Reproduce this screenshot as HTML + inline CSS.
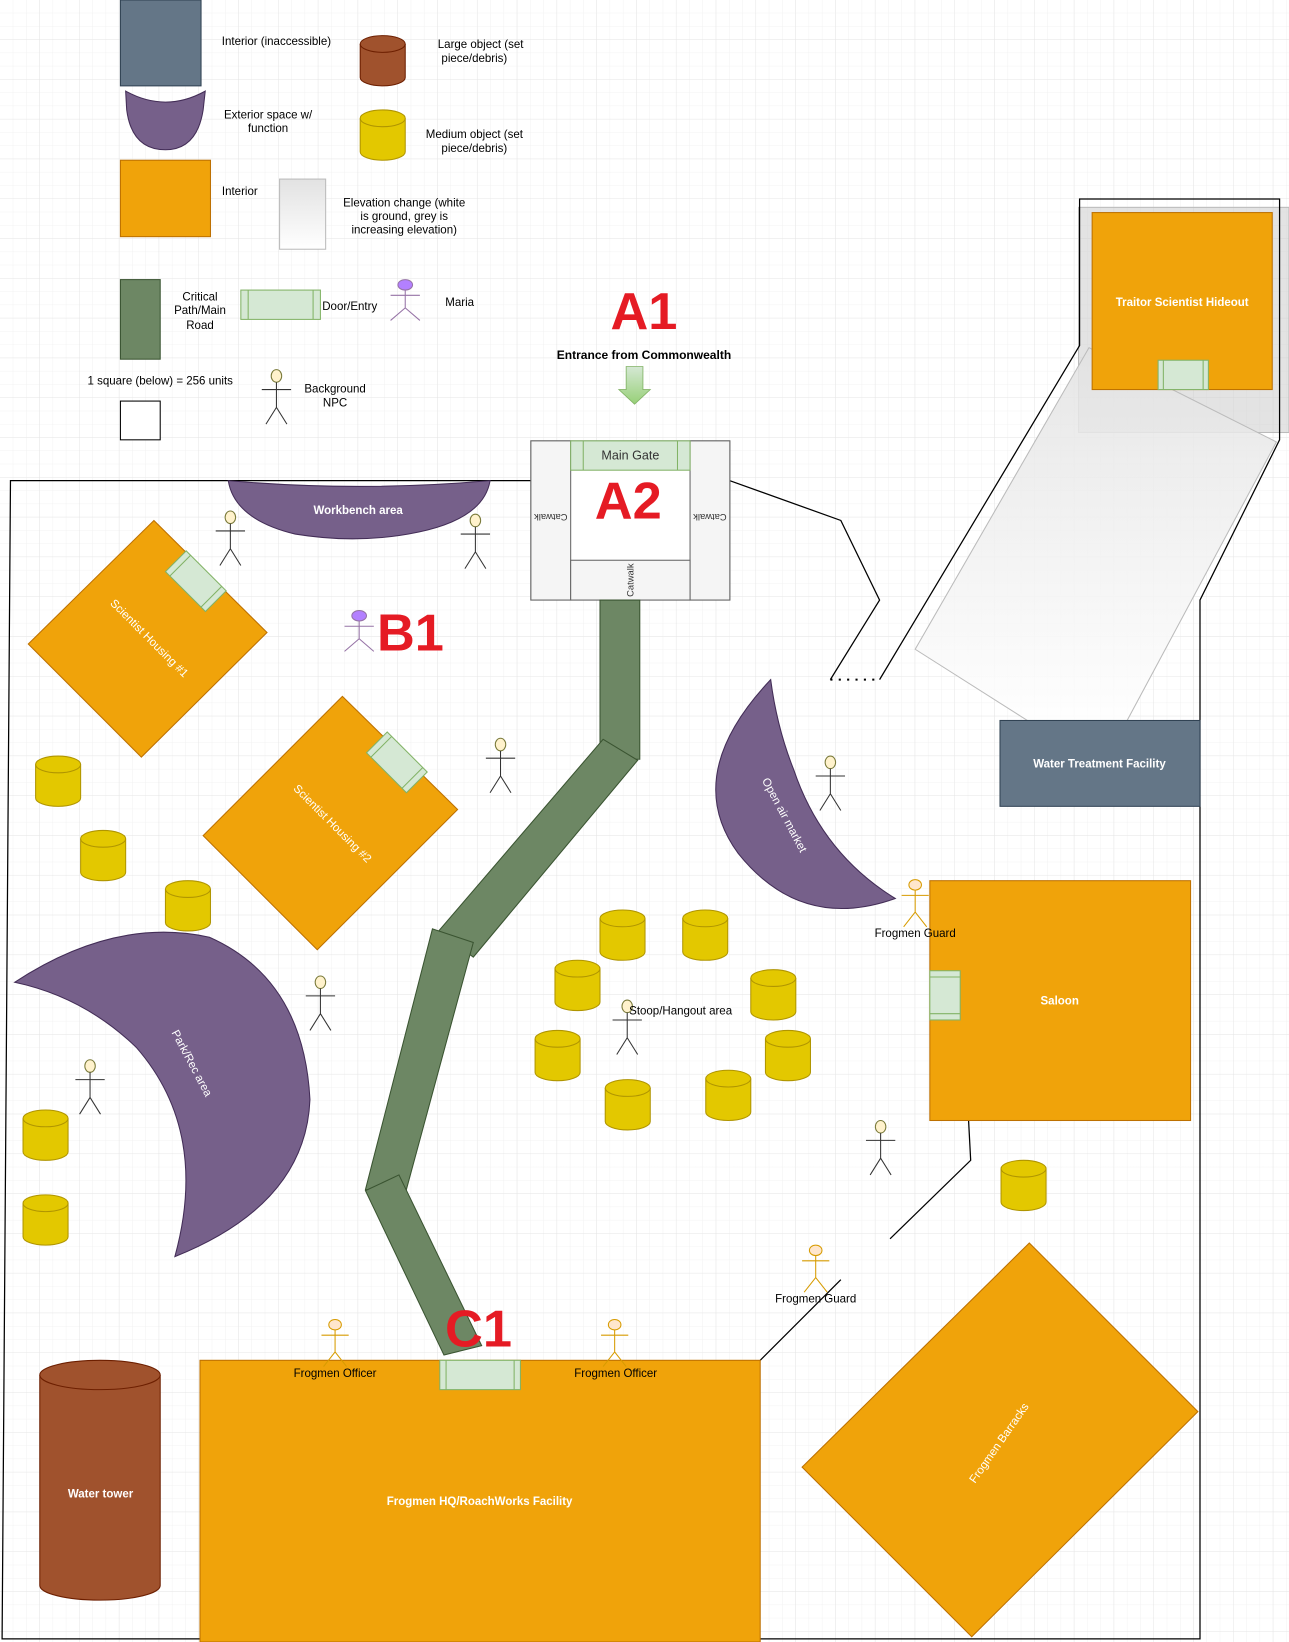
<!DOCTYPE html>
<html><head><meta charset="utf-8"><style>
html,body{margin:0;padding:0;background:#fff;}
svg{display:block;}
text{font-family:"Liberation Sans",Arial,sans-serif;}
</style></head><body>
<svg width="1289" height="1642" viewBox="0 0 1231 1568" preserveAspectRatio="none" xmlns="http://www.w3.org/2000/svg">
<defs>
<pattern id="g1" width="12.667" height="12.667" patternUnits="userSpaceOnUse"><path d="M12.667 0V12.667H0" fill="none" stroke="#f0f0f0" stroke-width="0.8"/></pattern>
<pattern id="g2" width="38" height="38" patternUnits="userSpaceOnUse"><path d="M38 0V38H0" fill="none" stroke="#e4e4e4" stroke-width="0.8"/></pattern>
<linearGradient id="elev" x1="0" y1="0" x2="0" y2="1"><stop offset="0" stop-color="#e2e2e2"/><stop offset="1" stop-color="#ffffff"/></linearGradient>
<linearGradient id="arr" x1="0" y1="0" x2="0" y2="1"><stop offset="0" stop-color="#d5e8d4"/><stop offset="1" stop-color="#97d077"/></linearGradient>
<g id="cylY"><path d="M0,8 V40 A21.5,8 0 0 0 43,40 V8" fill="#e3c800" stroke="#b09500"/><ellipse cx="21.5" cy="8" rx="21.5" ry="8" fill="#e3c800" stroke="#b09500"/></g>
<g id="npc" stroke="#333" stroke-width="1" fill="none"><ellipse cx="0" cy="0" rx="5" ry="6" fill="#fff2cc" stroke="#7a7a3a"/><path d="M0,6V30M-14,13H14M0,30L-10,46M0,30L10,46"/></g>
<g id="guard" stroke="#d79b00" stroke-width="1" fill="none"><ellipse cx="0" cy="0" rx="6" ry="5" fill="#ffe6cc"/><path d="M0,5V26M-13,10H13M0,26L-11,40M0,26L11,40"/></g>
<g id="maria" stroke="#9673a6" stroke-width="1" fill="none"><ellipse cx="0" cy="0" rx="7" ry="5" fill="#b380ff"/><path d="M0,5V22M-14,10H14M0,22L-14,34M0,22L14,34"/></g>
</defs>
<rect width="1231" height="1568" fill="url(#g1)"/>
<rect width="1231" height="1568" fill="url(#g2)"/>

<!-- Legend -->
<rect x="115" y="0" width="77" height="82" fill="#647687" stroke="#314354"/>
<text x="264" y="43" font-size="11" text-anchor="middle">Interior (inaccessible)</text>
<path d="M120,87 Q158,108 196,87 L194,105 Q188,143 158,143 Q126,143 121,105 Z" fill="#76608a" stroke="#432d57"/>
<text x="256" y="113" font-size="11" text-anchor="middle">Exterior space w/</text>
<text x="256" y="126" font-size="11" text-anchor="middle">function</text>
<rect x="115" y="153" width="86" height="73" fill="#f0a30a" stroke="#bd7000"/>
<text x="229" y="186" font-size="11" text-anchor="middle">Interior</text>
<rect x="267" y="171" width="44" height="67" fill="url(#elev)" stroke="#bbb"/>
<text x="386" y="197" font-size="11" text-anchor="middle">Elevation change (white</text>
<text x="386" y="210" font-size="11" text-anchor="middle">is ground, grey is</text>
<text x="386" y="223" font-size="11" text-anchor="middle">increasing elevation)</text>
<rect x="115" y="267" width="38" height="76" fill="#6d8764" stroke="#3a5431"/>
<text x="191" y="287" font-size="11" text-anchor="middle">Critical</text>
<text x="191" y="300" font-size="11" text-anchor="middle">Path/Main</text>
<text x="191" y="314" font-size="11" text-anchor="middle">Road</text>
<rect x="230" y="277" width="76" height="28" fill="#d5e8d4" stroke="#82b366"/>
<path d="M237,277V305M299,277V305" stroke="#82b366"/>
<text x="334" y="296" font-size="11" text-anchor="middle">Door/Entry</text>
<use href="#maria" x="387" y="272"/>
<text x="439" y="292" font-size="11" text-anchor="middle">Maria</text>
<path d="M344,42 V74 A21.5,8 0 0 0 387,74 V42" fill="#a0522d" stroke="#6d1f00"/><ellipse cx="365.5" cy="42" rx="21.5" ry="8" fill="#a0522d" stroke="#6d1f00"/>
<text x="459" y="46" font-size="11" text-anchor="middle">Large object (set</text>
<text x="453" y="59" font-size="11" text-anchor="middle">piece/debris)</text>
<use href="#cylY" x="344" y="105"/>
<text x="453" y="132" font-size="11" text-anchor="middle">Medium object (set</text>
<text x="453" y="145" font-size="11" text-anchor="middle">piece/debris)</text>
<text x="153" y="367" font-size="11" text-anchor="middle">1 square (below) = 256 units</text>
<rect x="115" y="383" width="38" height="37" fill="#fff" stroke="#000"/>
<use href="#npc" x="264" y="359"/>
<text x="320" y="375" font-size="11" text-anchor="middle">Background</text>
<text x="320" y="388" font-size="11" text-anchor="middle">NPC</text>

<!-- A1 -->
<text x="615" y="314" font-size="50" font-weight="bold" fill="#e51b24" text-anchor="middle">A1</text>
<text x="615" y="343" font-size="11.5" font-weight="bold" text-anchor="middle">Entrance from Commonwealth</text>
<path d="M598,350H614V372H621L606,386L591,372H598Z" fill="url(#arr)" stroke="#82b366" stroke-width="0.8"/>

<!-- elevation area top right -->
<rect x="1030" y="198" width="201" height="215" fill="#cccccc" fill-opacity="0.55" stroke="#bbb"/>
<path d="M874,620 L1040,332 L1219,422 L1070,700 L1000,700 Z" fill="url(#elev)" fill-opacity="0.85" stroke="#bbb"/>
<rect x="1043" y="203" width="172" height="169" fill="#f0a30a" stroke="#bd7000"/>
<text x="1129" y="292" font-size="11" font-weight="bold" fill="#fff" text-anchor="middle">Traitor Scientist Hideout</text>
<rect x="1106" y="344" width="48" height="28" fill="#d5e8d4" stroke="#82b366"/>
<path d="M1111,344V372M1149,344V372" stroke="#82b366"/>

<!-- boundary lines -->
<g fill="none" stroke="#000" stroke-width="1.2">
<path d="M507,459 H10 L2,1565 H1146 V573 L1222,420 V190 H1031 V330 L840,649"/>
<path d="M697,459 L803,497 L840,573 L793,649"/>
<path d="M925,1070 L927,1108 L850,1183"/>
<path d="M803,1222 L726,1299"/>
</g>
<path d="M793,649 H840" stroke="#000" stroke-width="2" stroke-dasharray="2,6"/>

<!-- gate -->
<rect x="507" y="421" width="190" height="152" fill="#fff" stroke="#666"/>
<rect x="507" y="421" width="38" height="152" fill="#f5f5f5" stroke="#666"/>
<rect x="659" y="421" width="38" height="152" fill="#f5f5f5" stroke="#666"/>
<rect x="545" y="535" width="114" height="38" fill="#f5f5f5" stroke="#666"/>
<rect x="545" y="421" width="114" height="28" fill="#d5e8d4" stroke="#82b366"/>
<path d="M557,421V449M647,421V449" stroke="#82b366"/>
<text x="602" y="439" font-size="12" text-anchor="middle" fill="#333">Main Gate</text>
<text transform="translate(526,494) rotate(180)" font-size="9" text-anchor="middle" fill="#333" dy="3">Catwalk</text>
<text transform="translate(678,494) rotate(180)" font-size="9" text-anchor="middle" fill="#333" dy="3">Catwalk</text>
<text transform="translate(602,554) rotate(-90)" font-size="9" text-anchor="middle" fill="#333" dy="3">Catwalk</text>
<text x="600" y="495" font-size="50" font-weight="bold" fill="#e51b24" text-anchor="middle">A2</text>

<!-- path -->
<g fill="#6d8764" stroke="#3a5431">
<polygon points="573,573 611,573 611,725 573,725"/>
<polygon points="576,706 609,726 452,914 419,889"/>
<polygon points="413,887 452,900 387,1140 349,1136"/>
<polygon points="349,1137 381,1122 460,1285 424,1294"/>
</g>

<!-- workbench -->
<path d="M218,459 Q343,470 468,459 Q462,495 400,508 Q343,520 282,510 Q224,496 218,459 Z" fill="#76608a" stroke="#432d57"/>
<text x="342" y="491" font-size="11" font-weight="bold" fill="#fff" text-anchor="middle">Workbench area</text>

<!-- housing -->
<polygon points="147,497 255,604 135,723 27,615" fill="#f0a30a" stroke="#bd7000"/>
<g transform="translate(187,555) rotate(45)"><rect x="-27" y="-14" width="54" height="28" fill="#d5e8d4" stroke="#82b366"/><path d="M-21,-14V14M21,-14V14" stroke="#82b366"/></g>
<text transform="translate(140,612) rotate(45)" font-size="11" fill="#fff" text-anchor="middle">Scientist Housing #1</text>
<polygon points="327,665 437,773 303,907 194,798" fill="#f0a30a" stroke="#bd7000"/>
<g transform="translate(379,728) rotate(45)"><rect x="-27" y="-14" width="54" height="28" fill="#d5e8d4" stroke="#82b366"/><path d="M-21,-14V14M21,-14V14" stroke="#82b366"/></g>
<text transform="translate(315,789) rotate(45)" font-size="11" fill="#fff" text-anchor="middle">Scientist Housing #2</text>

<use href="#maria" x="343" y="588"/>
<text x="392" y="621" font-size="50" font-weight="bold" fill="#e51b24" text-anchor="middle">B1</text>

<!-- park -->
<path d="M14,938 Q110,875 200,895 Q290,935 296,1050 Q292,1150 167,1200 Q200,1080 130,1000 Q80,952 14,938 Z" fill="#76608a" stroke="#432d57"/>
<text transform="translate(180,1017) rotate(62)" font-size="11" fill="#fff" text-anchor="middle">Park/Rec area</text>

<!-- market -->
<path d="M736,649 Q650,740 705,815 Q765,890 855,858 Q785,815 758,735 Q742,695 736,649 Z" fill="#76608a" stroke="#432d57"/>
<text transform="translate(746,780) rotate(62)" font-size="11" fill="#fff" text-anchor="middle">Open air market</text>

<!-- water treatment -->
<rect x="955" y="688" width="191" height="82" fill="#647687" stroke="#314354"/>
<text x="1050" y="733" font-size="11" font-weight="bold" fill="#fff" text-anchor="middle">Water Treatment Facility</text>

<!-- saloon -->
<rect x="888" y="841" width="249" height="229" fill="#f0a30a" stroke="#bd7000"/>
<rect x="888" y="927" width="29" height="47" fill="#d5e8d4" stroke="#82b366"/>
<path d="M888,933H917M888,968H917" stroke="#82b366"/>
<text x="1012" y="959" font-size="11" font-weight="bold" fill="#fff" text-anchor="middle">Saloon</text>

<!-- barracks -->
<polygon points="983,1187 1144,1348 928,1563 766,1401" fill="#f0a30a" stroke="#bd7000"/>
<text transform="translate(957,1380) rotate(-55)" font-size="11" fill="#fff" text-anchor="middle">Frogmen Barracks</text>

<!-- HQ -->
<rect x="191" y="1299" width="535" height="269" fill="#f0a30a" stroke="#bd7000"/>
<rect x="420" y="1299" width="77" height="28" fill="#d5e8d4" stroke="#82b366"/>
<path d="M426,1299V1327M491,1299V1327" stroke="#82b366"/>
<text x="458" y="1437" font-size="11" font-weight="bold" fill="#fff" text-anchor="middle">Frogmen HQ/RoachWorks Facility</text>
<text x="457" y="1286" font-size="50" font-weight="bold" fill="#e51b24" text-anchor="middle">C1</text>

<!-- water tower -->
<path d="M38,1313 V1514 A57.5,14 0 0 0 153,1514 V1313" fill="#a0522d" stroke="#6d1f00"/>
<ellipse cx="95.5" cy="1313" rx="57.5" ry="14" fill="#a0522d" stroke="#6d1f00"/>
<text x="96" y="1430" font-size="11" font-weight="bold" fill="#fff" text-anchor="middle">Water tower</text>

<!-- cylinders -->
<use href="#cylY" x="34" y="722"/>
<use href="#cylY" x="77" y="793"/>
<use href="#cylY" x="158" y="841"/>
<use href="#cylY" x="22" y="1060"/>
<use href="#cylY" x="22" y="1141"/>
<use href="#cylY" x="573" y="869"/>
<use href="#cylY" x="652" y="869"/>
<use href="#cylY" x="530" y="917"/>
<use href="#cylY" x="717" y="926"/>
<use href="#cylY" x="511" y="984"/>
<use href="#cylY" x="731" y="984"/>
<use href="#cylY" x="578" y="1031"/>
<use href="#cylY" x="674" y="1022"/>
<use href="#cylY" x="956" y="1108"/>

<!-- NPCs -->
<use href="#npc" x="220" y="494"/>
<use href="#npc" x="454" y="497"/>
<use href="#npc" x="478" y="711"/>
<use href="#npc" x="793" y="728"/>
<use href="#npc" x="306" y="938"/>
<use href="#npc" x="86" y="1018"/>
<use href="#npc" x="599" y="961"/>
<use href="#npc" x="841" y="1076"/>
<text x="650" y="969" font-size="11" text-anchor="middle">Stoop/Hangout area</text>

<use href="#guard" x="874" y="845"/>
<text x="874" y="895" font-size="11" text-anchor="middle">Frogmen Guard</text>
<use href="#guard" x="779" y="1194"/>
<text x="779" y="1244" font-size="11" text-anchor="middle">Frogmen Guard</text>
<use href="#guard" x="320" y="1265"/>
<text x="320" y="1315" font-size="11" text-anchor="middle">Frogmen Officer</text>
<use href="#guard" x="587" y="1265"/>
<text x="588" y="1315" font-size="11" text-anchor="middle">Frogmen Officer</text>
</svg>
</body></html>
